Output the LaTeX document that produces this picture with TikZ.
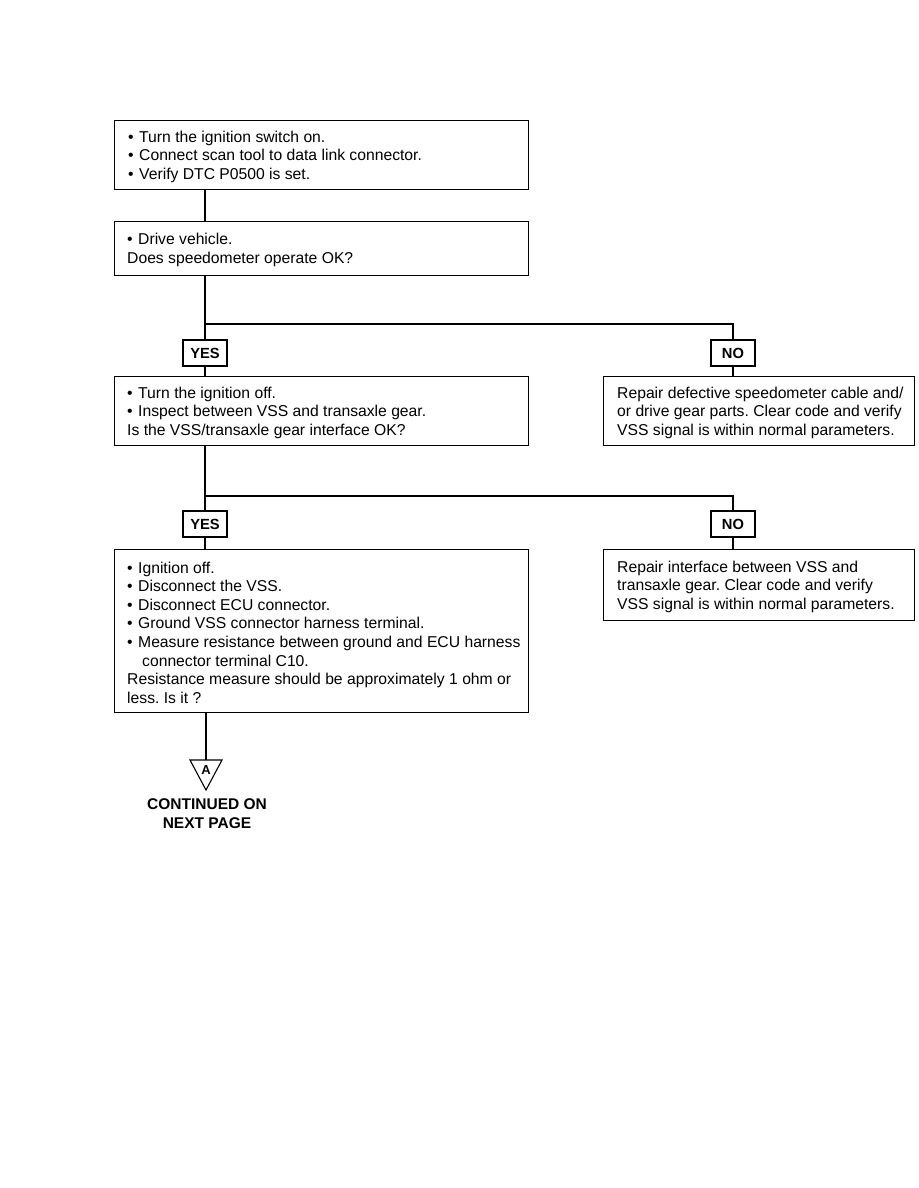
\documentclass[tikz,border=0pt]{standalone}
\usepackage{fontspec}
\setmainfont{Liberation Sans}
\frenchspacing
\newcommand{\bul}{\makebox[11pt][l]{\textbullet}}
\begin{document}
\begin{tikzpicture}[x=1pt,y=-1pt,
  frame/.style={draw, line width=1.1pt, inner sep=0pt, anchor=north west},
  txt/.style={anchor=west, inner sep=0pt, align=left, yshift=-1.5pt, font=\fontsize{15.7}{18.6}\selectfont},
  lbl/.style={draw, line width=1.1pt, minimum width=44pt, minimum height=26pt, inner sep=0pt, font=\bfseries\fontsize{14.7}{16}\selectfont},
  conn/.style={line width=1.1pt}]
\useasboundingbox[fill=white] (0,0) rectangle (918,1188);

% main boxes
\node[frame, minimum width=414pt, minimum height=69pt] (b1) at (114,120) {};
\node[txt] (t1) at ([xshift=14pt]b1.west) {\bul Turn the ignition switch on.\\ \bul Connect scan tool to data link connector.\\ \bul Verify DTC P0500 is set.};

\node[frame, minimum width=414pt, minimum height=54pt] (b2) at (114,221) {};
\node[txt] (t2) at ([xshift=13pt]b2.west) {\bul Drive vehicle.\\ Does speedometer operate OK?};

\node[frame, minimum width=414pt, minimum height=69pt] (b3) at (114,376) {};
\node[txt] (t3) at ([xshift=13pt]b3.west) {\bul Turn the ignition off.\\ \bul Inspect between VSS and transaxle gear.\\ Is the VSS/transaxle gear interface OK?};

\node[frame, minimum width=414pt, minimum height=163pt] (b4) at (114,549) {};
\node[txt] (t4) at ([xshift=13pt]b4.west) {\bul Ignition off.\\ \bul Disconnect the VSS.\\ \bul Disconnect ECU connector.\\ \bul Ground VSS connector harness terminal.\\ \bul Measure resistance between ground and ECU harness\\ \hspace*{15pt}connector terminal C10.\\ Resistance measure should be approximately 1 ohm or\\ less. Is it ?};

\node[frame, minimum width=311pt, minimum height=69pt] (r1) at (603,376) {};
\node[txt] (tr1) at ([xshift=14pt]r1.west) {Repair defective speedometer cable and/\\ or drive gear parts. Clear code and verify\\ VSS signal is within normal parameters.};

\node[frame, minimum width=311pt, minimum height=71pt] (r2) at (603,549) {};
\node[txt] (tr2) at ([xshift=14pt]r2.west) {Repair interface between VSS and\\ transaxle gear. Clear code and verify\\ VSS signal is within normal parameters.};

% labels
\node[lbl] (yes1) at (205,353) {YES};
\node[lbl] (no1) at (733,353) {NO};
\node[lbl] (yes2) at (205,524) {YES};
\node[lbl] (no2) at (733,524) {NO};

% junctions
\coordinate (j1) at (205,324);
\coordinate (j2) at (205,496);
\coordinate (tri) at (206,760);

% connectors
\draw[conn] (b1.south -| yes1) -- (b2.north -| yes1);
\draw[conn] (b2.south -| yes1) -- (yes1.north);
\draw[conn] (j1) -| (no1.north);
\draw[conn] (yes1.south) -- (b3.north -| yes1);
\draw[conn] (no1.south) -- (r1.north -| no1);
\draw[conn] (b3.south -| yes2) -- (yes2.north);
\draw[conn] (j2) -| (no2.north);
\draw[conn] (yes2.south) -- (b4.north -| yes2);
\draw[conn] (no2.south) -- (r2.north -| no2);
\draw[conn] (b4.south -| tri) -- (tri);

% off-page connector
\draw[conn, line join=miter] (190,760) -- (222,760) -- (206,790) -- cycle;
\node[font=\bfseries\fontsize{13}{13}\selectfont, inner sep=0pt] (a) at (206,770) {A};
\node[align=center, inner sep=0pt, font=\bfseries\fontsize{15.5}{19}\selectfont] (cont) at (207,814) {CONTINUED ON\\NEXT PAGE};
\end{tikzpicture}
\end{document}
